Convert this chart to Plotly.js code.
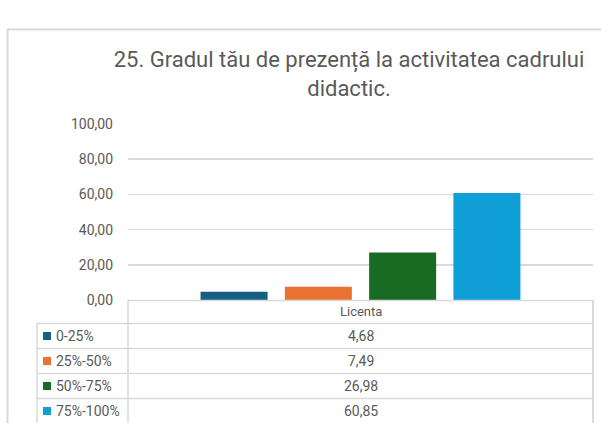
<!DOCTYPE html>
<html>
<head>
<meta charset="utf-8">
<script src="https://cdn.plot.ly/plotly-3.0.1.min.js"></script>
<style>html,body{margin:0;padding:0;background:#fff;}</style>
</head>
<body>
<div id="chart" style="width:601px;height:423px;"></div>
<script>
const categories = ['Licenta'];
const seriesNames = ['0-25%', '25%-50%', '50%-75%', '75%-100%'];
const values = [4.68, 7.49, 26.98, 60.85];
const colors = ['#156082', '#E97132', '#196B24', '#0F9ED5'];
const yTicks = [0, 20, 40, 60, 80, 100];
const titleText = '25. Gradul tău de prezență la activitatea cadrului<br>didactic.';

const W = 601, H = 423;
const PL = 128, PR = 593, PT = 124, PB = 300;
const px = x => (x - PL) / (PR - PL);
const py = y => (PB - y) / (PB - PT);
const grey = '#595959';
const lineC = '#d9d9d9';
const fontFam = 'Roboto, "Liberation Sans", sans-serif';
const fmt = v => v.toFixed(2).replace('.', ',');

const traces = seriesNames.map((n, i) => ({
  type: 'bar',
  name: n,
  x: categories,
  y: [values[i]],
  marker: {color: colors[i], line: {color: '#ffffff', width: 0}},
  hoverinfo: 'name+y'
}));

const shapes = [];
const annotations = [];
function hline(x0, x1, y, w) {
  shapes.push({type: 'line', xref: 'paper', yref: 'paper', x0: px(x0), x1: px(x1), y0: py(y), y1: py(y), line: {color: lineC, width: w || 1.5}});
}
function vline(x, y0, y1, w) {
  shapes.push({type: 'line', xref: 'paper', yref: 'paper', x0: px(x), x1: px(x), y0: py(y0), y1: py(y1), line: {color: lineC, width: w || 1.5}});
}
// outer chart border
hline(7, 640, 29.5, 2);
vline(7.5, 29, 440, 2);
// table grid
hline(128, 593, 300.5);
const rowLines = [323.5, 348.5, 373.5, 398.5];
rowLines.forEach(y => hline(37, 593, y));
vline(37, 323, 440);
vline(128, 300, 440);
vline(593, 300, 440, 2);

annotations.push({xref: 'paper', yref: 'paper', x: px(360.5), y: py(311.5), text: categories[0], showarrow: false, xanchor: 'center', yanchor: 'middle', font: {family: fontFam, size: 13, color: grey}});
seriesNames.forEach((n, i) => {
  const yc = 336 + i * 25;
  shapes.push({type: 'rect', xref: 'paper', yref: 'paper', x0: px(43), x1: px(51), y0: py(yc - 4), y1: py(yc + 4), fillcolor: colors[i], line: {width: 0}});
  annotations.push({xref: 'paper', yref: 'paper', x: px(54), y: py(yc), text: n, showarrow: false, xanchor: 'left', yanchor: 'middle', font: {family: fontFam, size: 14, color: grey}});
  annotations.push({xref: 'paper', yref: 'paper', x: px(360.5), y: py(yc), text: fmt(values[i]), showarrow: false, xanchor: 'center', yanchor: 'middle', font: {family: fontFam, size: 14, color: grey}});
});

const layout = {
  width: W, height: H,
  margin: {l: PL, r: W - PR, t: PT, b: H - PB, pad: 0},
  paper_bgcolor: '#ffffff', plot_bgcolor: '#ffffff',
  title: {text: titleText, font: {family: fontFam, size: 22, color: grey}, xref: 'container', x: 349 / W, xanchor: 'center', yref: 'container', y: 1 - 67 / H, yanchor: 'middle'},
  showlegend: false,
  barmode: 'group',
  bargap: 0.275,
  bargroupgap: 0.205,
  xaxis: {showticklabels: false, showgrid: false, zeroline: false, showline: false, ticks: ''},
  yaxis: {range: [0, 100], tickvals: yTicks, ticktext: yTicks.map(fmt), showgrid: true, gridcolor: lineC, gridwidth: 1.5, zeroline: false, showline: false, ticks: '', ticklabelstandoff: 14, tickfont: {family: fontFam, size: 14, color: grey}},
  shapes: shapes,
  annotations: annotations
};

Plotly.newPlot('chart', traces, layout, {displayModeBar: false, staticPlot: true});
</script>
</body>
</html>
